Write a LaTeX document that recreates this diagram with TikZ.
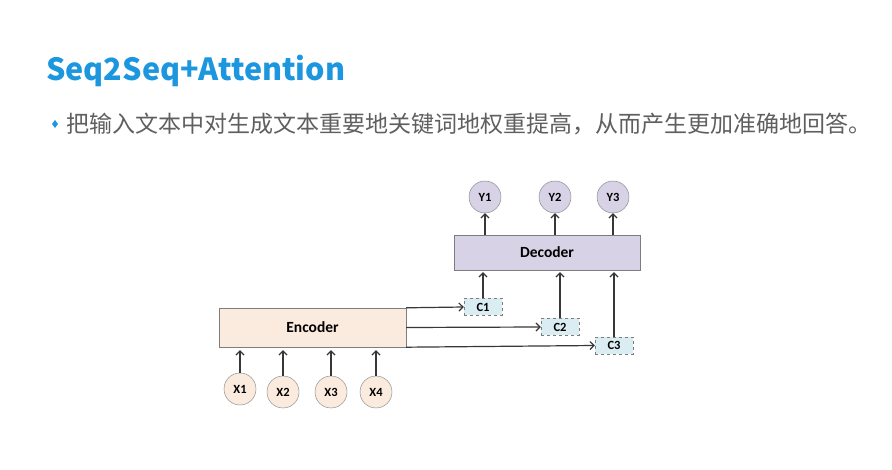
\documentclass[tikz,border=0pt]{standalone}
\usepackage{fontspec}
\setmainfont{Carlito}
\newfontfamily\cjk{Noto Sans CJK SC}
\usetikzlibrary{positioning,arrows.meta}
\definecolor{azul}{RGB}{28,150,222}
\definecolor{gristexto}{RGB}{95,95,95}
\definecolor{lila}{RGB}{216,210,230}
\definecolor{melocoton}{RGB}{251,235,223}
\definecolor{celeste}{RGB}{218,237,242}
\definecolor{borde}{RGB}{125,125,125}
\definecolor{linea}{RGB}{55,55,55}
\begin{document}
\begin{tikzpicture}[x=1pt, y=-1pt,
    bloque/.style={draw=borde, inner sep=0pt, font=\fontsize{15.5}{18}\selectfont\bfseries},
    nodo/.style={circle, draw=borde, minimum size=32pt, inner sep=0pt, font=\fontsize{12.5}{14}\selectfont\bfseries},
    contexto/.style={draw=borde, dashed, fill=celeste, minimum width=38pt, minimum height=17pt, inner sep=0pt, font=\fontsize{12.5}{14}\selectfont\bfseries},
    flecha/.style={-{Straight Barb[length=4pt,width=8pt]}, draw=linea, line width=1.2pt}]
    \useasboundingbox[fill=white] (0,0) rectangle (892,470);
    % Titulo
    \node[anchor=base west, inner sep=0pt, text=azul, font=\cjk\fontsize{30.5}{36}\selectfont\bfseries] (titulo) at (46,81) {Seq2Seq+Attention};
    \fill[azul] (55,120) -- (58,124) -- (55,128) -- (52,124) -- cycle;
    \node[anchor=west, inner sep=0pt, text=gristexto, font=\cjk\fontsize{23}{27}\selectfont] (frase) at (66,124) {把输入文本中对生成文本重要地关键词地权重提高，从而产生更加准确地回答。};
    % Encoder y decoder
    \node[bloque, fill=melocoton, minimum width=187pt, minimum height=39pt] (enc) at (312.5,327.5) {Encoder};
    \node[bloque, fill=lila, minimum width=186pt, minimum height=35pt] (dec) at (547,252.5) {Decoder};
    % Entradas
    \node[nodo, fill=melocoton] (x1) at (240,389) {X1};
    \node[nodo, fill=melocoton] (x2) at (283,392) {X2};
    \node[nodo, fill=melocoton] (x3) at (331,392) {X3};
    \node[nodo, fill=melocoton] (x4) at (376,392) {X4};
    % Salidas
    \node[nodo, fill=lila] (y1) at (485,197) {Y1};
    \node[nodo, fill=lila] (y2) at (555,197) {Y2};
    \node[nodo, fill=lila] (y3) at (613,197) {Y3};
    % Vectores de contexto
    \node[contexto] (c1) at (483,307) {C1};
    \node[contexto] (c2) at (560,327) {C2};
    \node[contexto] (c3) at (614,345.5) {C3};
    % Conexiones
    \foreach \x in {x1,x2,x3,x4}
        \draw[flecha, shorten >=3pt] (\x.north) -- (enc.south -| \x);
    \foreach \y in {y1,y2,y3}
        \draw[flecha] (dec.north -| \y) -- (\y.south);
    \foreach \c in {c1,c2,c3}
        \draw[flecha, shorten >=2pt] (\c.north) -- (dec.south -| \c);
    \draw[flecha] (enc.north east) -- (c1.west);
    \draw[flecha] (enc.east) -- (c2.west);
    \draw[flecha] (enc.south east) -- (c3.west);
\end{tikzpicture}
\end{document}
